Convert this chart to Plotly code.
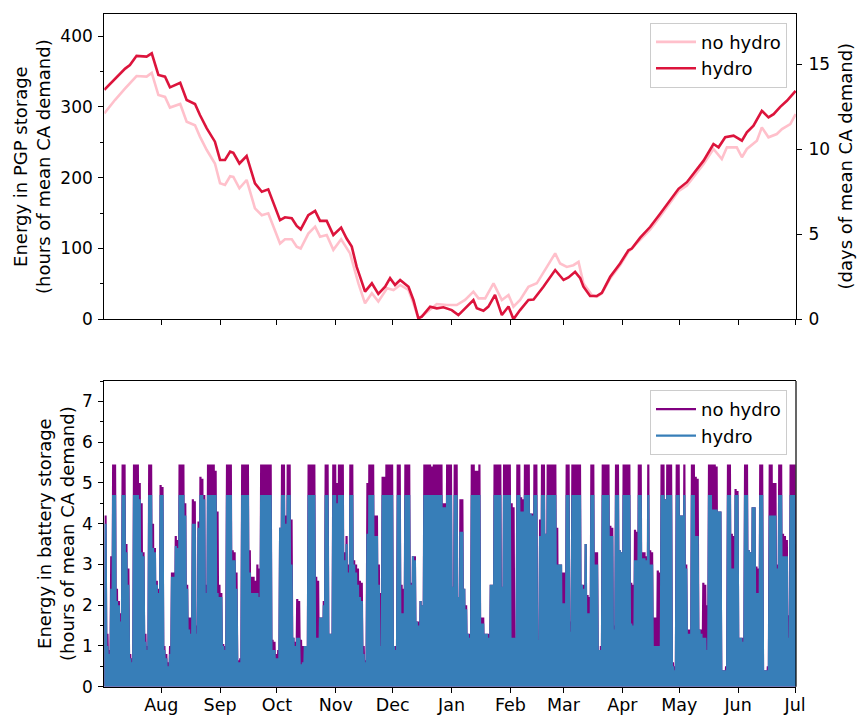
import pandas as pd
import plotly.graph_objects as go

# ---------------- data ----------------
START = pd.Timestamp("2017-07-02")
END = START + pd.Timedelta(hours=24 * 364 + 12)

# PGP storage (hours of mean CA demand), sampled at day offsets from START
pgp_hydro_day = [0, 5.6, 11, 13.5, 17, 22.3, 25, 28.5, 32, 34.6, 40, 43.4, 47.8, 50.4, 54, 58.3,
                 61, 63.6, 66.3, 68, 71.2, 75, 79.4, 83, 86.4, 92.6, 95.2, 98.8, 101.4, 103.5,
                 107.5, 111.1, 113.7, 117.2, 120.7, 124.8, 127.7, 130.4, 133, 134.8, 137.4, 141,
                 144.4, 148, 150.6, 153.2, 155.9, 160.3, 162.9, 165.5, 167.3, 171.7, 175.2, 178.7,
                 183.1, 186.6, 190.1, 194.5, 196.3, 199.8, 202.4, 205.9, 209.5, 213, 215.6, 219.1,
                 223.5, 226.2, 231.4, 237.6, 242, 244.6, 248.1, 250.8, 252.5, 256, 259.5, 262.2,
                 266.6, 271.8, 276.2, 278, 282.4, 287.6, 292.9, 298.2, 302.6, 307, 310.5, 315.8,
                 321, 323.7, 327.2, 331.6, 336, 338.6, 342.1, 346.5, 350, 352.7, 356.2, 359.7, 364.3]
pgp_hydro_val = [324, 340, 354, 359, 372, 371, 375.5, 345, 342.6, 327.5, 334, 309.6, 304, 288.5,
                 269.6, 250.8, 225, 225, 236.7, 235, 220, 230.6, 192, 180, 183.5, 140, 144, 142.6,
                 131.8, 127, 147, 153, 139, 139, 119, 129.4, 114, 102.6, 74, 60, 39, 50.8, 35.8,
                 46, 58, 48.5, 55.5, 46, 27.3, 1.4, 3.8, 17.9, 15.5, 17, 13, 6, 15.5, 27.3, 15.5,
                 12.2, 18, 34.4, 6, 18, 0, 13, 27.3, 28, 46, 69.6, 55.5, 59, 67, 58, 46, 32.8,
                 32.8, 37.5, 60, 78.8, 97.5, 99.9, 115.3, 130.3, 149, 167.8, 184.2, 193.6, 205.3,
                 224, 247.5, 242.8, 257, 259.3, 252.2, 264, 273.3, 294.4, 285, 289.7, 300, 308.5,
                 322.5]
pgp_nohydro_day = [0, 5.6, 11, 17, 22.3, 25, 28.5, 32, 34.6, 40, 43.4, 47.8, 50.4, 54, 58.3, 61,
                   63.6, 66.3, 68, 71.2, 75, 79.4, 83, 86.4, 92.6, 95.2, 98.8, 101.4, 103.5, 107.5,
                   111.1, 113.7, 117.2, 120.7, 124.8, 129.5, 133.9, 137.4, 141, 144.4, 149, 152.4,
                   155.9, 160.3, 162.9, 165.5, 168.2, 175.2, 180.5, 185.7, 190.1, 194.5, 197.2,
                   200.7, 205.1, 209.5, 213, 215.6, 219.1, 223.5, 227.9, 233.2, 237.6, 240.2,
                   243.7, 247.2, 249.9, 252.5, 256.9, 259.5, 262.2, 266.6, 271.8, 276.2, 282.4,
                   287.6, 292.9, 298.2, 302.6, 307, 310.5, 315.8, 321, 325.4, 328.1, 333.3, 336,
                   338.6, 343.9, 346.5, 350, 354.4, 357.1, 361.5, 364.3]
pgp_nohydro_val = [290.8, 309.6, 326, 343.5, 342.6, 348, 316.7, 314, 299, 304, 279, 274, 258, 239,
                   220, 192, 189.6, 202, 201, 185, 196.7, 156.7, 147, 149.6, 107, 113, 113, 102.6,
                   100, 121, 130.8, 116.7, 119, 98, 113, 93, 50.8, 22.6, 36.7, 25, 43.8, 41.4, 48.5,
                   41.4, 22.6, 1.4, 6, 21.6, 20.2, 20.2, 27.3, 39, 29.6, 29.6, 50.8, 27.3, 34.4,
                   17.9, 27.3, 46, 50.8, 74, 93, 78.8, 74, 76.4, 81, 50.6, 34.2, 31.9, 36.6, 57.7,
                   76.4, 95.2, 112.5, 126.6, 145.3, 165.5, 181, 189, 200.7, 219.4, 240.5, 226.4,
                   242.8, 242.8, 228.8, 240.5, 252.2, 271, 257, 261.6, 268.6, 275.7, 289.7]

# Battery storage: daily peak state of charge (hours of mean CA demand), one value per day from START
batt_nohydro_peak = [
    4.2, 1.3, 0.9, 3.2, 5.45, 5.45, 2.4, 2.1, 1.8, 5.45,
    5.45, 3.5, 2.9, 0.8, 0.7, 5.45, 5.45, 5.45, 5.0, 4.5,
    3.3, 1.3, 1.0, 5.45, 5.45, 4.0, 3.4, 2.6, 2.4, 4.95,
    4.9, 1.0, 0.8, 0.6, 1.0, 2.8, 2.8, 3.7, 3.6, 5.45,
    5.45, 5.45, 4.5, 2.5, 1.7, 1.7, 4.6, 4.55, 1.5, 4.05,
    5.15, 5.1, 4.7, 2.5, 5.45, 5.45, 5.45, 5.45, 5.3, 4.3,
    2.5, 2.3, 1.05, 1.0, 5.45, 5.45, 5.45, 3.35, 3.3, 2.8,
    0.65, 0.7, 5.45, 5.45, 5.45, 5.45, 3.35, 2.7, 2.7, 2.6,
    3.0, 2.9, 5.45, 5.45, 5.45, 5.45, 5.45, 5.45, 1.15, 1.1,
    0.8, 0.9, 3.9, 5.45, 5.45, 4.2, 5.45, 5.45, 4.1, 1.2,
    1.1, 2.15, 2.1, 1.15, 1.0, 1.0, 1.0, 5.45, 5.45, 5.45,
    5.45, 2.7, 2.6, 1.7, 1.7, 2.1, 5.45, 5.45, 1.3, 1.3,
    5.45, 5.45, 5.0, 5.45, 5.45, 5.45, 3.3, 3.7, 3.0, 5.45,
    5.45, 3.1, 3.0, 2.9, 2.6, 2.55, 1.0, 0.65, 5.0, 5.45,
    5.45, 5.45, 4.2, 4.2, 3.0, 2.3, 5.15, 5.15, 5.45, 5.45,
    5.45, 5.45, 1.0, 1.0, 5.45, 5.45, 2.5, 2.4, 5.45, 5.45,
    5.45, 2.55, 3.2, 3.2, 1.6, 1.6, 2.1, 2.0, 5.45, 5.45,
    5.45, 5.45, 5.4, 5.45, 5.45, 5.45, 5.45, 5.45, 4.5, 4.5,
    5.45, 5.45, 5.45, 2.45, 5.45, 5.45, 2.2, 4.6, 4.6, 2.4,
    2.0, 1.3, 1.3, 5.45, 5.45, 5.3, 5.3, 5.45, 1.7, 1.7,
    1.3, 1.3, 1.3, 2.5, 2.5, 5.45, 5.45, 5.45, 5.45, 2.45,
    5.45, 5.45, 5.45, 5.45, 4.5, 4.4, 1.2, 5.45, 5.45, 4.65,
    4.6, 5.45, 5.45, 5.45, 4.25, 4.25, 5.45, 5.45, 1.15, 4.1,
    5.45, 5.45, 3.75, 5.45, 5.45, 5.45, 5.45, 5.45, 3.9, 3.0,
    3.0, 2.8, 2.8, 5.45, 5.45, 1.6, 5.45, 5.45, 5.45, 5.45,
    5.45, 2.5, 2.5, 3.5, 2.25, 2.2, 5.45, 5.45, 3.3, 3.3,
    0.9, 1.0, 5.45, 5.45, 5.45, 5.45, 3.95, 3.9, 1.5, 5.45,
    5.45, 3.35, 3.3, 5.45, 5.45, 5.45, 5.45, 2.55, 2.5, 3.85,
    3.8, 5.45, 5.45, 3.3, 3.3, 3.2, 5.45, 3.35, 3.3, 1.7,
    1.7, 2.85, 2.8, 5.45, 5.45, 4.6, 5.45, 5.45, 5.45, 0.6,
    0.5, 5.45, 5.45, 4.2, 4.2, 5.45, 3.0, 1.4, 1.4, 5.45,
    5.45, 5.15, 5.1, 1.4, 1.4, 2.55, 2.5, 2.0, 5.45, 5.45,
    5.45, 5.45, 5.4, 4.3, 4.3, 0.4, 0.4, 0.5, 5.45, 5.45,
    3.75, 3.7, 4.85, 4.8, 1.2, 1.2, 1.2, 5.45, 5.45, 3.35,
    3.3, 4.4, 4.4, 2.95, 2.9, 5.45, 5.45, 0.4, 0.4, 0.5,
    5.45, 5.45, 5.0, 5.0, 3.0, 5.45, 5.45, 3.75, 3.7, 3.6,
    1.75, 5.45, 5.45, 5.45, 3.5]
batt_hydro_peak = [
    4.0, 1.0, 0.8, 2.4, 4.7, 4.7, 2.1, 2.0, 1.6, 4.7,
    4.7, 3.3, 2.5, 0.7, 0.6, 4.7, 4.7, 4.7, 4.6, 3.3,
    3.2, 1.1, 0.9, 4.7, 4.7, 3.4, 3.3, 2.5, 2.3, 4.7,
    4.7, 0.9, 0.7, 0.5, 0.8, 2.7, 2.7, 3.45, 3.4, 4.7,
    4.7, 4.7, 4.2, 2.4, 1.4, 1.3, 4.0, 4.0, 1.3, 3.9,
    4.7, 4.7, 4.6, 2.3, 4.7, 4.7, 4.7, 4.7, 4.7, 2.3,
    2.2, 2.2, 1.0, 0.9, 4.7, 4.7, 4.7, 3.1, 3.1, 2.4,
    0.6, 0.6, 4.7, 4.7, 4.7, 4.7, 2.8, 2.3, 2.3, 2.3,
    2.3, 2.2, 4.7, 4.7, 4.7, 4.7, 4.7, 4.7, 0.9, 0.9,
    0.7, 0.7, 3.9, 4.7, 4.7, 4.0, 4.7, 4.7, 3.0, 1.2,
    1.0, 1.2, 1.2, 0.55, 0.6, 1.0, 1.0, 4.7, 4.7, 4.7,
    4.7, 1.2, 1.2, 1.7, 1.7, 2.0, 4.7, 4.7, 1.3, 1.3,
    4.7, 4.7, 4.5, 4.7, 4.7, 4.7, 3.1, 3.5, 2.8, 4.7,
    4.7, 3.0, 2.8, 2.5, 2.2, 2.1, 0.8, 0.6, 3.75, 4.7,
    4.7, 4.7, 3.7, 3.7, 2.5, 1.0, 4.7, 4.7, 4.7, 4.7,
    4.7, 4.7, 1.0, 0.9, 4.7, 4.7, 1.8, 1.8, 4.7, 4.7,
    4.7, 2.5, 3.2, 3.1, 1.6, 1.5, 2.1, 2.0, 4.7, 4.7,
    4.7, 4.7, 4.7, 4.7, 4.7, 4.7, 4.7, 4.7, 4.4, 4.4,
    4.7, 4.7, 4.7, 2.45, 4.7, 4.7, 2.2, 3.8, 3.8, 2.4,
    1.9, 1.3, 1.2, 4.7, 4.7, 4.7, 4.7, 4.7, 1.55, 1.55,
    1.3, 1.3, 1.2, 2.5, 2.5, 4.7, 4.7, 4.7, 4.7, 2.45,
    4.7, 4.7, 4.7, 4.7, 1.2, 1.2, 1.2, 4.7, 4.7, 4.3,
    4.3, 4.7, 4.7, 4.7, 4.25, 4.2, 4.7, 4.7, 1.15, 3.7,
    4.7, 4.7, 3.75, 4.7, 4.7, 4.7, 4.7, 4.7, 3.0, 3.0,
    3.0, 2.05, 2.05, 4.7, 4.7, 1.35, 4.7, 4.7, 4.7, 4.7,
    4.7, 2.5, 2.4, 3.5, 1.8, 1.8, 4.7, 4.7, 3.0, 3.0,
    0.9, 0.9, 4.7, 4.7, 4.7, 4.7, 3.7, 3.7, 1.4, 4.7,
    4.7, 3.35, 3.3, 4.7, 4.7, 4.7, 4.7, 1.55, 1.5, 3.1,
    3.1, 4.7, 4.7, 3.15, 3.15, 3.1, 4.7, 3.0, 3.0, 1.0,
    1.0, 1.0, 1.0, 4.7, 4.7, 4.6, 4.7, 4.7, 4.7, 0.5,
    0.4, 4.7, 4.7, 4.2, 4.2, 4.7, 2.9, 1.3, 1.3, 4.7,
    4.7, 3.7, 3.7, 1.4, 1.3, 1.2, 1.2, 0.9, 4.7, 4.7,
    4.35, 4.35, 4.35, 4.3, 4.3, 0.4, 0.4, 0.4, 4.7, 4.7,
    2.9, 2.9, 4.7, 4.7, 1.2, 1.2, 1.1, 4.7, 4.7, 3.35,
    3.3, 4.4, 4.4, 2.3, 2.3, 4.7, 4.7, 0.4, 0.4, 0.4,
    4.2, 4.2, 4.2, 4.2, 2.9, 4.7, 4.7, 3.2, 3.2, 3.2,
    1.2, 4.7, 4.7, 4.7, 2.8]
batt_daily_low = 0.0  # storage is drawn down (nearly) empty every night

# ---------------- helpers ----------------
def to_dates(days):
    return [START + pd.Timedelta(hours=24 * float(d)) for d in days]


def daily_cycle(peaks):
    xs, ys = [], []
    for i, p in enumerate(peaks):
        xs += [START + pd.Timedelta(hours=24 * i + 4), START + pd.Timedelta(hours=24 * i + 16)]
        ys += [batt_daily_low, p]
    return xs, ys


FONT = "DejaVu Sans"
FS = 18
FS_X = 17.5
FS_Y = 17
W, H = 857, 717
XD = [104.3 / W, 796 / W]
TOP_D = [1 - 319.3 / H, 1 - 13.7 / H]
BOT_D = [1 - 686.7 / H, 1 - 381 / H]
YMAX_TOP = 431.5

fig = go.Figure()
fig.add_trace(go.Scatter(x=to_dates(pgp_nohydro_day), y=pgp_nohydro_val, mode="lines",
                         name="no hydro", line=dict(color="#FFC0CB", width=2.6),
                         xaxis="x", yaxis="y", legend="legend"))
fig.add_trace(go.Scatter(x=to_dates(pgp_hydro_day), y=pgp_hydro_val, mode="lines",
                         name="hydro", line=dict(color="#DC143C", width=2.6),
                         xaxis="x", yaxis="y", legend="legend"))
bx, by = daily_cycle(batt_nohydro_peak)
fig.add_trace(go.Scatter(x=bx, y=by, mode="lines", name="no hydro",
                         line=dict(color="#800080", width=2.2),
                         xaxis="x2", yaxis="y2", legend="legend2"))
bx, by = daily_cycle(batt_hydro_peak)
fig.add_trace(go.Scatter(x=bx, y=by, mode="lines", name="hydro",
                         line=dict(color="#377eb8", width=2.2),
                         xaxis="x2", yaxis="y2", legend="legend2"))
# trace that activates the right-hand (days) axis
fig.add_trace(go.Scatter(x=[START], y=[0], yaxis="y3", xaxis="x", mode="lines",
                         showlegend=False, hoverinfo="skip", line=dict(width=0)))

base = dict(showline=True, linecolor="black", linewidth=1.2, automargin=False,
            ticks="outside", ticklen=5, tickwidth=1.2, tickcolor="black",
            showgrid=False, zeroline=False)
xfont = dict(family=FONT, size=FS_X, color="black")
yfont = dict(family=FONT, size=FS_Y, color="black")
legend_common = dict(x=787 / W, xanchor="right", yanchor="top",
                     bgcolor="rgba(255,255,255,0.8)", bordercolor="#cccccc", borderwidth=1,
                     entrywidth=116, entrywidthmode="pixels", itemwidth=40,
                     font=dict(family=FONT, size=FS, color="black"))

fig.update_layout(
    template="none",
    width=W, height=H, margin=dict(l=0, r=0, t=0, b=0, autoexpand=False),
    paper_bgcolor="white", plot_bgcolor="white",
    font=dict(family=FONT, size=FS, color="black"),
    xaxis=dict(domain=XD, anchor="y", range=[START, END], type="date", mirror=True,
               tick0="2017-08-01", dtick="M1", showticklabels=False, tickfont=xfont, **base),
    yaxis=dict(domain=TOP_D, anchor="x", range=[0, YMAX_TOP], dtick=100, mirror=False,
               minor=dict(dtick=50, ticklen=3, tickcolor="black", ticks="outside"),
               ticklabelstandoff=2, tickfont=yfont, **base),
    yaxis3=dict(overlaying="y", side="right", anchor="x", range=[0, YMAX_TOP / 24], dtick=5,
                ticklabelstandoff=3, tickfont=yfont, **base),
    xaxis2=dict(domain=XD, anchor="y2", range=[START, END], type="date", mirror=True,
                tick0="2017-08-01", dtick="M1", tickformat="%b", ticklabelstandoff=-3,
                tickfont=xfont, **base),
    yaxis2=dict(domain=BOT_D, anchor="x2", range=[0, 7.5], dtick=1, mirror=False,
                minor=dict(dtick=0.5, ticklen=3, tickcolor="black", ticks="outside"),
                ticklabelstandoff=2, tickfont=yfont, **base),
    legend=dict(y=1 - 22.7 / H, **legend_common),
    legend2=dict(y=1 - 390 / H, **legend_common),
    showlegend=True,
)

# right-hand frame line of the battery panel
fig.add_shape(type="line", xref="x2 domain", yref="y2 domain", x0=1, x1=1, y0=0, y1=1,
              line=dict(color="black", width=1.2))

fig.add_annotation(text="Energy in PGP storage<br>(hours of mean CA demand)", textangle=-90,
                   x=32.5 / W, y=1 - 166.5 / H, xref="paper", yref="paper", showarrow=False,
                   xanchor="center", yanchor="middle", font=dict(family=FONT, size=FS))
fig.add_annotation(text="(days of mean CA demand)", textangle=-90,
                   x=845 / W, y=1 - 166.5 / H, xref="paper", yref="paper", showarrow=False,
                   xanchor="center", yanchor="middle", font=dict(family=FONT, size=FS))
fig.add_annotation(text="Energy in battery storage<br>(hours of mean CA demand)", textangle=-90,
                   x=56 / W, y=1 - 534 / H, xref="paper", yref="paper", showarrow=False,
                   xanchor="center", yanchor="middle", font=dict(family=FONT, size=FS))

fig.write_html("out.html")
